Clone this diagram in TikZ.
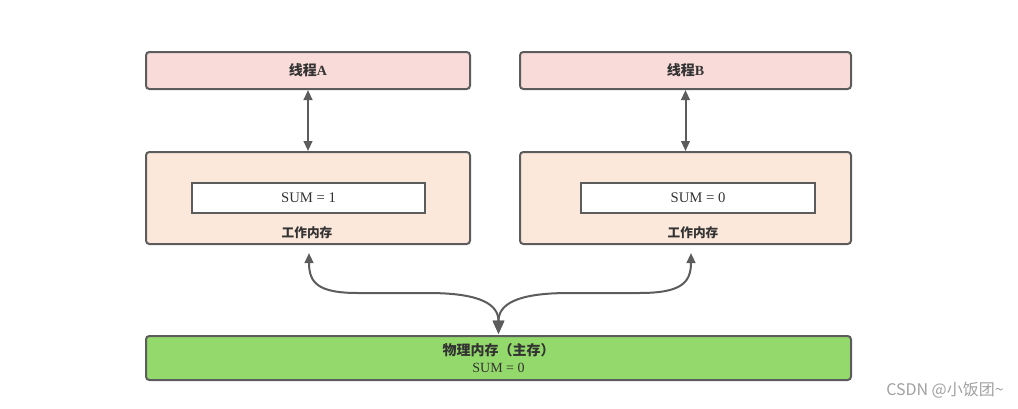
\documentclass[tikz,border=0pt]{standalone}
\usepackage{fontspec}
\setmainfont{Liberation Serif}
\newfontfamily\cjk{Noto Sans CJK SC}
\usetikzlibrary{arrows.meta}
\definecolor{bordc}{HTML}{5C5C5C}
\definecolor{txtc}{HTML}{333333}
\definecolor{pinkc}{HTML}{F9DBDA}
\definecolor{peachc}{HTML}{FBE8DA}
\definecolor{greenc}{HTML}{94D96B}
\definecolor{wmc}{HTML}{A0A0A0}
\tikzset{
  box/.style={draw=bordc, line width=1.5pt, rounded corners=2.5pt, inner sep=0pt, text=txtc, font=\fontsize{10.5}{12}\selectfont},
  inbox/.style={draw=bordc, line width=1.5pt, fill=white, inner sep=0pt, text=txtc, font=\fontsize{11}{12}\selectfont},
  lbl/.style={text=txtc, inner sep=0pt, font=\fontsize{9.5}{11}\selectfont},
  conn/.style={draw=bordc, line width=1.5pt},
  dtip/.style={{Triangle[length=7.5pt,width=6.5pt]}-{Triangle[length=7.5pt,width=6.5pt]}},
  ctip/.style={{Triangle[length=10pt,width=8.5pt]}-{Triangle[length=7.5pt,width=6.5pt]}},
}
\begin{document}
\begin{tikzpicture}[x=0.75pt,y=-0.75pt]
\useasboundingbox (0,0) rectangle (1018,408);
% threads
\node[box, fill=pinkc, minimum width=243pt, minimum height=27.75pt] (tA) at (308,70.5) {{\cjk\bfseries 线程}\textbf{A}};
\node[box, fill=pinkc, minimum width=248.25pt, minimum height=27.75pt] (tB) at (685.5,70.5) {{\cjk\bfseries 线程}\textbf{B}};
% working memories
\node[box, fill=peachc, minimum width=243pt, minimum height=69pt] (wA) at (308,198) {};
\node[box, fill=peachc, minimum width=248.25pt, minimum height=69pt] (wB) at (685.5,198) {};
\node[inbox, minimum width=174.75pt, minimum height=22.5pt] (sA) at (308.5,198) {SUM = 1};
\node[inbox, minimum width=175.5pt, minimum height=22.5pt] (sB) at (698,198) {SUM = 0};
\node[lbl] (lA) at (307,233) {\cjk\bfseries 工作内存};
\node[lbl] (lB) at (693,233) {\cjk\bfseries 工作内存};
% main memory
\node[box, fill=greenc, minimum width=528.75pt, minimum height=33pt, align=center] (mm) at (498.5,358)
  {{\cjk\bfseries 物理内存（主存）}\\[0.5pt]SUM = 0};
% vertical arrows
\draw[conn, dtip] (tA.south) -- (wA.north);
\draw[conn, dtip] (tB.south) -- (wB.north);
% curved arrows
\coordinate (cA) at (309,253);
\coordinate (cB) at (691,253);
\coordinate (mt) at (498.5,334);
\draw[conn, ctip] (mt) .. controls (498.5,305) and (482,293) .. (428,293) -- (358,293) .. controls (318,293) and (309,283) .. (cA);
\draw[conn, ctip] (mt) .. controls (498.5,305) and (515,293) .. (569,293) -- (639,293) .. controls (681,293) and (691,283) .. (cB);
% watermark
\node[text=wmc, inner sep=0pt, font=\cjk\fontsize{12}{14}\selectfont] (wm) at (945,390) {CSDN @小饭团\textasciitilde};
\end{tikzpicture}
\end{document}
